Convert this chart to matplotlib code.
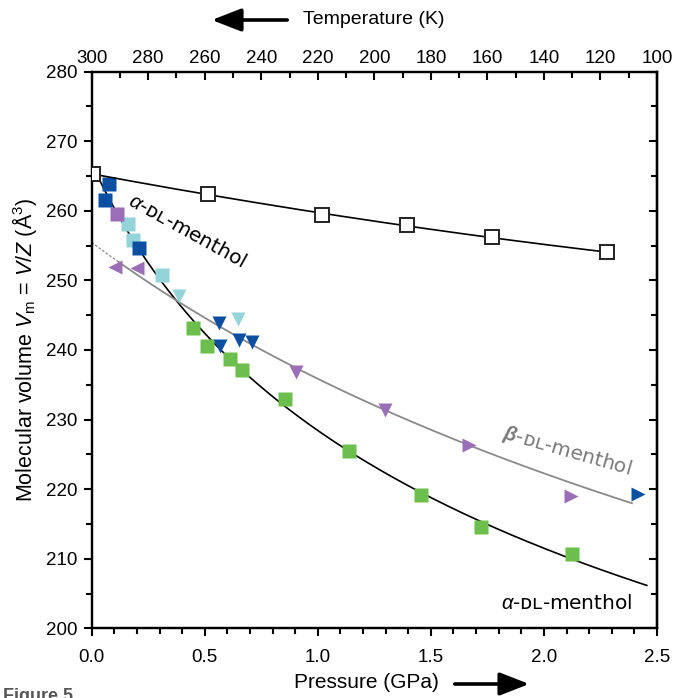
import numpy as np
import matplotlib
matplotlib.use("Agg")
import matplotlib.pyplot as plt
from matplotlib.ticker import MultipleLocator
from matplotlib.patches import FancyArrowPatch

plt.rcParams['font.family'] = ['Liberation Sans', 'DejaVu Sans']
plt.rcParams['mathtext.fontset'] = 'custom'
plt.rcParams['mathtext.rm'] = 'Liberation Sans'
plt.rcParams['mathtext.it'] = 'Liberation Sans:italic'
plt.rcParams['mathtext.bf'] = 'Liberation Sans:bold'
plt.rcParams['mathtext.bfit'] = 'Liberation Sans:italic:bold'

# ---------------- data ----------------
# open squares: ambient-pressure temperature series (top axis, K)
temp_T = [299.4, 258.9, 218.6, 188.5, 158.2, 117.8]
temp_V = [265.25, 262.4, 259.4, 257.95, 256.2, 254.0]

# alpha-DL-menthol (squares) vs pressure (GPa)
a_blue_P = [0.078, 0.059, 0.210]
a_blue_V = [263.8, 261.6, 254.6]
a_purple_P = [0.110]
a_purple_V = [259.5]
a_cyan_P = [0.159, 0.181, 0.309]
a_cyan_V = [258.1, 255.8, 250.7]
a_green_P = [0.449, 0.511, 0.611, 0.663, 0.854, 1.137, 1.458, 1.723, 2.124]
a_green_V = [243.2, 240.5, 238.7, 237.1, 233.0, 225.5, 219.15, 214.6, 210.7]
a_ambient_P = [0.007]
a_ambient_V = [265.25]

# beta-DL-menthol (triangles)
b_purple_left_P = [0.103, 0.199]
b_purple_left_V = [251.95, 251.7]
b_cyan_down_P = [0.387, 0.648]
b_cyan_down_V = [247.7, 244.4]
b_blue_down_P = [0.5625, 0.567, 0.652, 0.707]
b_blue_down_V = [243.8, 240.6, 241.4, 241.2]
b_purple_down_P = [0.903, 1.296]
b_purple_down_V = [236.8, 231.4]
b_purple_right_P = [1.669, 2.121]
b_purple_right_V = [226.3, 219.0]
b_blue_right_P = [2.415]
b_blue_right_V = [219.25]

x_ticks = [0.0, 0.5, 1.0, 1.5, 2.0, 2.5]
x_ticklabels = ['0.0', '0.5', '1.0', '1.5', '2.0', '2.5']
y_ticks = [200, 210, 220, 230, 240, 250, 260, 270, 280]
t_ticks = [300, 280, 260, 240, 220, 200, 180, 160, 140, 120, 100]

C_BLUE = '#0b4fa3'
C_PURPLE = '#9b6fb8'
C_CYAN = '#92d4d7'
C_GREEN = '#6cbf4c'
C_GRAY = '#8a8a8a'


def murnaghan_fit(P, V):
    P = np.asarray(P, float)
    V = np.asarray(V, float)
    best = None
    for B0 in np.linspace(2, 40, 381):
        for Bp in np.linspace(1, 14, 131):
            f = (1 + Bp * P / B0) ** (-1.0 / Bp)
            V0 = np.sum(V * f) / np.sum(f * f)
            sse = np.sum((V - V0 * f) ** 2)
            if best is None or sse < best[0]:
                best = (sse, V0, B0, Bp)
    _, V0, B0, Bp = best
    return lambda p: V0 * (1 + Bp * np.asarray(p) / B0) ** (-1.0 / Bp)


# ---------------- figure ----------------
W, H = 676, 698
fig = plt.figure(figsize=(W / 100, H / 100), dpi=100)
left, right = 91.7 / W, 657 / W
top, bottom = 1 - 71.5 / H, 1 - 628.3 / H
ax = fig.add_axes([left, bottom, right - left, top - bottom])

ax.set_xlim(0, 2.5)
ax.set_ylim(200, 280)

# fit curves
aP = a_ambient_P + a_blue_P + a_purple_P + a_cyan_P + a_green_P
aV = a_ambient_V + a_blue_V + a_purple_V + a_cyan_V + a_green_V
fa = murnaghan_fit(aP, aV)
pa = np.linspace(0.007, 2.455, 300)
ax.plot(pa, fa(pa), color='black', lw=1.2, zorder=2)

bP = b_purple_left_P + b_cyan_down_P + b_blue_down_P + b_purple_down_P + b_purple_right_P + b_blue_right_P
bV = b_purple_left_V + b_cyan_down_V + b_blue_down_V + b_purple_down_V + b_purple_right_V + b_blue_right_V
fb = murnaghan_fit(bP, bV)
pb = np.linspace(0.12, 2.389, 300)
ax.plot(pb, fb(pb), color=C_GRAY, lw=1.3, zorder=2)
pd = np.linspace(0.0, 0.12, 30)
ax.plot(pd, fb(pd), color=C_GRAY, lw=0.9, ls=(0, (2, 1.5)), zorder=2)

ms = 10
def sq(P, V, c):
    ax.plot(P, V, 's', ms=ms, color=c, mec='none', zorder=4)

sq(a_green_P, a_green_V, C_GREEN)
sq(a_cyan_P, a_cyan_V, C_CYAN)
sq(a_purple_P, a_purple_V, C_PURPLE)
sq(a_blue_P, a_blue_V, C_BLUE)

ax.plot(b_purple_left_P, b_purple_left_V, '<', ms=ms, color=C_PURPLE, mec='none', zorder=4)
ax.plot(b_cyan_down_P, b_cyan_down_V, 'v', ms=ms, color=C_CYAN, mec='none', zorder=4)
ax.plot(b_blue_down_P, b_blue_down_V, 'v', ms=ms, color=C_BLUE, mec='none', zorder=4)
ax.plot(b_purple_down_P, b_purple_down_V, 'v', ms=ms, color=C_PURPLE, mec='none', zorder=4)
ax.plot(b_purple_right_P, b_purple_right_V, '>', ms=ms, color=C_PURPLE, mec='none', zorder=4)
ax.plot(b_blue_right_P, b_blue_right_V, '>', ms=ms, color=C_BLUE, mec='none', zorder=4)

# temperature axis (top)
ax2 = ax.twiny()
ax2.set_xlim(300, 100)
ax2.set_ylim(200, 280)
Tarr = np.asarray(temp_T)
cT = np.polyfit(Tarr, temp_V, 2)
tt = np.linspace(max(temp_T), min(temp_T), 200)
ax2.plot(tt, np.polyval(cT, tt), color='black', lw=1.2, zorder=3)
ax2.plot(temp_T, temp_V, 's', ms=10, mfc='white', mec='#222222', mew=1.4, zorder=5)
ax2.set_xticks(t_ticks)
ax2.xaxis.set_minor_locator(MultipleLocator(10))
ax2.tick_params(axis='x', which='major', direction='in', length=6, width=1.5, labelsize=13.5, pad=3)
ax2.tick_params(axis='x', which='minor', direction='in', length=4, width=1.5)

# main axes ticks
ax.set_xticks(x_ticks)
ax.set_yticks(y_ticks)
ax.set_xticklabels(x_ticklabels)
ax.xaxis.set_minor_locator(MultipleLocator(0.1))
ax.yaxis.set_minor_locator(MultipleLocator(5))
ax.tick_params(which='major', direction='out', length=6, width=1.5, labelsize=13.5)
ax.tick_params(axis='x', which='major', pad=9)
ax.tick_params(axis='y', which='major', pad=4)
ax.tick_params(which='minor', direction='out', length=4, width=1.5)
ax.tick_params(axis='x', top=False, which='both')

sec = ax.secondary_yaxis('right')
sec.set_yticks(y_ticks)
sec.yaxis.set_minor_locator(MultipleLocator(5))
sec.tick_params(which='major', direction='in', length=6, width=1.5, labelright=False)
sec.tick_params(which='minor', direction='in', length=4, width=1.5)

for a in (ax, ax2):
    for s in a.spines.values():
        s.set_linewidth(1.6)
sec.spines['right'].set_linewidth(1.6)

# annotations
ax.text(0.42, 257.0, r'$\alpha$-ᴅʟ-menthol', family='DejaVu Sans', fontsize=14.5,
        rotation=-29, rotation_mode='anchor', ha='center', va='center')
ax.text(2.1, 225.4, r'$\mathbfit{\beta}$-ᴅʟ-menthol',
        family='DejaVu Sans', fontsize=14.5, color='#7a7a7a',
        rotation=-16, rotation_mode='anchor', ha='center', va='center')
ax.text(2.1, 203.5, r'$\alpha$-ᴅʟ-menthol', family='DejaVu Sans', fontsize=14.5,
        ha='center', va='center')

# axis titles and arrows
fig.text(374 / W, 1 - 20 / H, 'Temperature (K)', fontsize=14, ha='center', va='center')
fig.text(366 / W, 1 - 683 / H, 'Pressure (GPa)', fontsize=15, ha='center', va='center')
fig.text(25 / W, 1 - 350 / H, r'Molecular volume $V_\mathrm{m}$ = $V$/$Z$ (Å$^3$)',
         fontsize=15.5, rotation=90, ha='center', va='center')

astyle = '-|>,head_length=0.9,head_width=0.35'
fig.add_artist(FancyArrowPatch((290 / W, 1 - 20 / H), (209 / W, 1 - 20 / H),
               transform=fig.transFigure, mutation_scale=20,
               arrowstyle=astyle, color='black', lw=2.6))
fig.add_artist(FancyArrowPatch((452 / W, 1 - 684 / H), (532 / W, 1 - 684 / H),
               transform=fig.transFigure, mutation_scale=20,
               arrowstyle=astyle, color='black', lw=2.6))

fig.text(3 / W, 1 - 688 / H, 'Figure 5', fontsize=13, fontweight='bold', color='#555555',
         ha='left', va='top')

fig.savefig('out.png', dpi=100)
